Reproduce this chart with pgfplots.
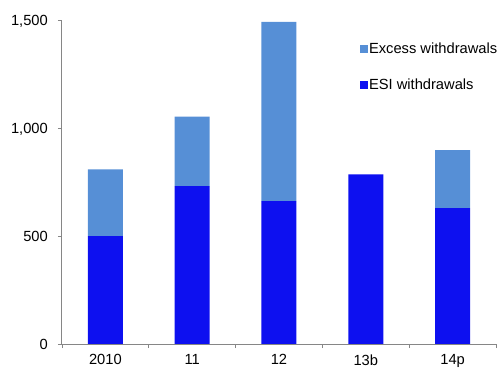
\documentclass[border=0pt]{standalone}
\usepackage{pgfplots}
\pgfplotsset{compat=1.18}
\usepackage{fontspec}
\setmainfont{Liberation Sans}
\definecolor{esi}{RGB}{13,16,240}
\definecolor{excess}{RGB}{86,143,214}
\definecolor{axisgray}{RGB}{134,134,134}

\begin{document}
\fontsize{14.7bp}{17bp}\selectfont
\begin{tikzpicture}
\useasboundingbox (-62bp,-24bp) rectangle (439bp,344bp);
\begin{axis}[
  scale only axis,
  width=434bp, height=323.3bp,
  ybar stacked, bar width=35bp,
  xmin=-0.5, xmax=4.5, ymin=0, ymax=1500,
  axis x line*=bottom, axis y line*=left,
  axis line style={axisgray, line width=1bp},
  xtick={0,1,2,3,4}, xticklabels={2010,11,12,13b,14p},
  major x tick style={draw=none},
  minor xtick={-0.5,0.5,1.5,2.5,3.5,4.5},
  minor x tick style={axisgray, line width=0.8bp},
  ytick={0,500,1000,1500},
  y tick style={axisgray, line width=0.8bp},
  tick align=outside,
  major tick length=4bp, minor tick length=4bp,
  /pgf/number format/assume math mode=true,
  /pgf/number format/1000 sep={,},
  scaled y ticks=false,
  tick label style={font=\fontsize{14.7bp}{17bp}\selectfont, text depth=0pt},
  xticklabel style={inner sep=0pt, anchor=north, yshift=-6.5bp},
  yticklabel style={inner sep=0pt, anchor=east, xshift=-10bp},
  legend style={draw=none, fill=none, at={(axis description cs:0.686,0.937)},
    anchor=north west, row sep=20bp, inner sep=0pt,
    font=\fontsize{14.7bp}{17bp}\selectfont,
    nodes={inner sep=1.5bp}},
  legend cell align=left,
  reverse legend,
]
\addplot[fill=esi, draw=none,
  legend image code/.code={\fill[esi] (0bp,-3.8bp) rectangle (7.6bp,3.8bp);}]
  coordinates {(0,500) (1,733) (2,663) (3,787) (4,630)};
\addlegendentry{ESI withdrawals}
\addplot[fill=excess, draw=none,
  legend image code/.code={\fill[excess] (0bp,-3.8bp) rectangle (7.6bp,3.8bp);}]
  coordinates {(0,310) (1,322) (2,832) (3,0) (4,270)};
\addlegendentry{Excess withdrawals}
\end{axis}
\end{tikzpicture}
\end{document}
